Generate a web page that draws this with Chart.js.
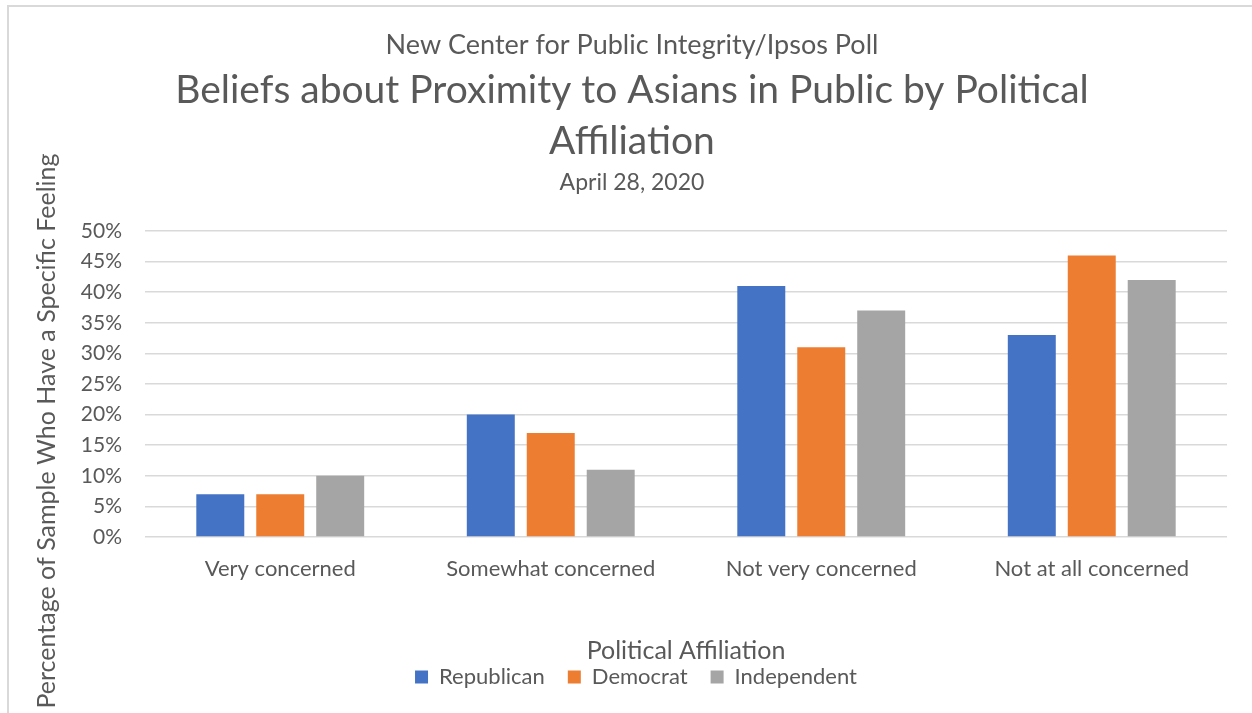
<!DOCTYPE html>
<html>
<head>
<meta charset="utf-8">
<title>Beliefs about Proximity to Asians in Public by Political Affiliation</title>
<script src="https://cdn.jsdelivr.net/npm/chart.js@4.4.1/dist/chart.umd.min.js"></script>
<style>
    html, body { margin: 0; padding: 0; background: #fff; overflow: hidden; }
    #wrap { position: relative; width: 1252px; height: 713px; }
    #frame {
        position: absolute; left: 7px; top: 5px; right: -20px; bottom: -20px;
        border-left: 2px solid #d9d9d9; border-top: 2px solid #d9d9d9;
    }
    canvas { position: absolute; left: 0; top: 0; }
</style>
</head>
<body>
<div id="wrap">
    <div id="frame"></div>
    <canvas id="chartBeliefs" width="1252" height="713"></canvas>
</div>
<script>
// ==================== DATA ====================
const categories = ['Very concerned', 'Somewhat concerned', 'Not very concerned', 'Not at all concerned'];
const seriesNames = ['Republican', 'Democrat', 'Independent'];
const republican = [7, 20, 41, 33];
const democrat = [7, 17, 31, 46];
const independent = [10, 11, 37, 42];
const yTicks = [0, 5, 10, 15, 20, 25, 30, 35, 40, 45, 50];

const superTitle = 'New Center for Public Integrity/Ipsos Poll';
const mainTitle = ['Beliefs about Proximity to Asians in Public by Political', 'Affiliation'];
const dateTitle = 'April 28, 2020';
const yTitle = 'Percentage of Sample Who Have a Specific Feeling';
const xTitle = 'Political Affiliation';

const FONT = 'Lato';
const TEXT = '#595959';

// ==================== TEXT PLUGIN ====================
const headerText = {
    id: 'headerText',
    afterDraw(chart) {
        const ctx = chart.ctx;
        const cx = 632;
        ctx.save();
        ctx.fillStyle = TEXT;
        ctx.textAlign = 'center';
        ctx.textBaseline = 'middle';

        ctx.font = `27px ${FONT}`;
        ctx.fillText(superTitle, cx, 45);

        ctx.font = `39px ${FONT}`;
        ctx.fillText(mainTitle[0], cx, 90);
        ctx.fillText(mainTitle[1], cx, 141);

        ctx.font = `23px ${FONT}`;
        ctx.fillText(dateTitle, cx, 183);

        // judul sumbu Y
        ctx.translate(47, 431);
        ctx.rotate(-Math.PI / 2);
        ctx.font = `25px ${FONT}`;
        ctx.fillText(yTitle, 0, 0);
        ctx.restore();
    }
};

// ==================== CHART ====================
function initChart() {
    const ctx = document.getElementById('chartBeliefs');

    new Chart(ctx, {
        type: 'bar',
        data: {
            labels: categories,
            datasets: [
                { label: seriesNames[0], data: republican, backgroundColor: '#4472c4' },
                { label: seriesNames[1], data: democrat, backgroundColor: '#ed7d31' },
                { label: seriesNames[2], data: independent, backgroundColor: '#a5a5a5' }
            ]
        },
        options: {
            responsive: false,
            animation: false,
            devicePixelRatio: 1,
            categoryPercentage: 0.665,
            barPercentage: 0.8,
            layout: { padding: { top: 231, left: 45, right: 25, bottom: 15 } },
            plugins: {
                legend: {
                    position: 'bottom',
                    labels: {
                        boxWidth: 13,
                        boxHeight: 13,
                        padding: 23,
                        color: TEXT,
                        font: { family: FONT, size: 22 }
                    }
                },
                tooltip: { enabled: false }
            },
            scales: {
                x: {
                    afterFit: scale => { scale.height = 106; },
                    grid: { display: false, drawTicks: false },
                    border: { display: false },
                    ticks: { padding: 19, color: TEXT, font: { family: FONT, size: 22 } },
                    title: {
                        display: true,
                        text: xTitle,
                        color: TEXT,
                        padding: { top: 0, bottom: -23 },
                        font: { family: FONT, size: 25 }
                    }
                },
                y: {
                    min: 0,
                    max: 50,
                    afterFit: scale => { scale.width = 100; },
                    afterBuildTicks: scale => { scale.ticks = yTicks.map(v => ({ value: v })); },
                    grid: { color: '#d9d9d9', lineWidth: 1.5, drawTicks: false },
                    border: { display: false },
                    ticks: {
                        padding: 23,
                        color: TEXT,
                        font: { family: FONT, size: 21 },
                        callback: value => value + '%'
                    }
                }
            }
        },
        plugins: [headerText]
    });
}

document.addEventListener('DOMContentLoaded', initChart);
</script>
</body>
</html>
